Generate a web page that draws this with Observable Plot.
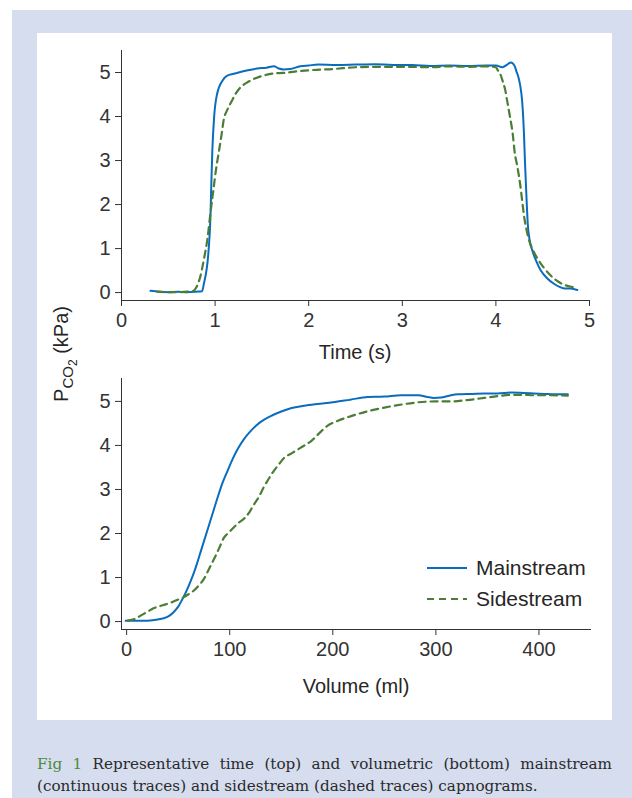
<!DOCTYPE html>
<html>
<head>
<meta charset="utf-8">
<script src="https://cdn.jsdelivr.net/npm/d3@7"></script>
<script src="https://cdn.jsdelivr.net/npm/@observablehq/plot@0.6"></script>
<style>
  html, body { margin: 0; padding: 0; background: #ffffff; }
  #page { position: relative; width: 632px; height: 798px; overflow: hidden; font-family: "Liberation Sans", Arial, sans-serif; color: #262626; }
  #frame { position: absolute; left: 12px; top: 10px; width: 620px; height: 788px; background: #d5ddef; }
  #panel { position: absolute; left: 37px; top: 33px; width: 575px; height: 687px; background: #ffffff; }
  .plot { position: absolute; left: 0; }
  .axlabel { position: absolute; font-size: 20px; white-space: nowrap; transform: translate(-50%, -50%); color: #262626; }
  #ylabel { position: absolute; left: 65px; top: 354px; font-size: 20px; white-space: nowrap; transform: translate(-50%, -50%) rotate(-90deg); color: #262626; }
  #ylabel sub { font-size: 15px; vertical-align: -5px; }
  #ylabel sub sub { font-size: 12px; vertical-align: -4px; }
  #legend { position: absolute; left: 427px; top: 552px; font-size: 21px; color: #262626; }
  .lrow { display: flex; align-items: center; height: 31px; }
  .lrow svg { margin-right: 9px; }
  #caption { position: absolute; left: 37px; top: 753px; width: 575px; font-family: "DejaVu Serif", serif; font-size: 15.2px; line-height: 22px; color: #2a2a2a; }
  #caption .l1 { text-align: justify; text-align-last: justify; white-space: nowrap; }
  #caption .l1 { white-space: normal; }
  #caption .fig { color: #4e8a3a; }
</style>
</head>
<body>
<div id="page">
  <div id="frame"></div>
  <div id="panel"></div>
  <div id="top" class="plot" style="top:0px"></div>
  <div id="bottom" class="plot" style="top:360px"></div>
  <div class="axlabel" style="left:355px; top:352px">Time (s)</div>
  <div class="axlabel" style="left:356px; top:686px">Volume (ml)</div>
  <div id="ylabel">P<sub>CO<sub>2</sub></sub> (kPa)</div>
  <div id="legend"></div>
  <div id="caption">
    <div class="l1"><span class="fig">Fig 1</span> <span>Representative time (top) and volumetric (bottom) mainstream</span></div>
    <div class="l2"><span>(continuous traces) and sidestream (dashed traces) capnograms.</span></div>
  </div>
</div>
<script>
// ---- Data ----
const seriesNames = ["Mainstream", "Sidestream"];
const seriesColors = ["#0a6cbd", "#4b7d35"];

const timeTicks = [0, 1, 2, 3, 4, 5];
const volumeTicks = [0, 100, 200, 300, 400];
const pco2Ticks = [0, 1, 2, 3, 4, 5];

// Time capnogram, mainstream: [time s, PCO2 kPa]
const mainTime = [
  [0.31,0.04],[0.40,0.02],[0.50,0.01],[0.60,0.02],[0.70,0.01],[0.80,0.02],[0.86,0.03],
  [0.88,0.2],[0.93,0.95],[0.95,1.7],[0.96,2.5],[0.97,3.2],[0.99,4.0],[1.02,4.5],
  [1.08,4.82],[1.13,4.93],[1.20,4.97],[1.27,5.01],[1.35,5.05],[1.45,5.09],[1.55,5.11],
  [1.63,5.14],[1.68,5.09],[1.73,5.07],[1.80,5.08],[1.91,5.14],[2.00,5.16],[2.10,5.18],
  [2.30,5.17],[2.50,5.18],[2.70,5.19],[2.90,5.17],[3.10,5.17],[3.30,5.15],[3.50,5.16],
  [3.70,5.15],[3.90,5.16],[4.00,5.16],[4.07,5.12],[4.12,5.18],[4.16,5.23],[4.20,5.15],
  [4.22,5.02],[4.24,4.9],[4.26,4.7],[4.28,4.36],[4.30,3.6],[4.31,3.0],[4.32,2.5],
  [4.33,2.0],[4.34,1.57],[4.36,1.2],[4.39,0.95],[4.43,0.72],[4.48,0.5],[4.55,0.32],
  [4.62,0.2],[4.68,0.13],[4.72,0.1],[4.80,0.09],[4.87,0.06]
];
// Time capnogram, sidestream
const sideTime = [
  [0.38,0.02],[0.50,0.01],[0.60,0.01],[0.70,0.02],[0.77,0.04],[0.80,0.12],[0.84,0.35],
  [0.88,0.75],[0.92,1.25],[0.95,1.8],[0.98,2.3],[1.01,2.8],[1.04,3.2],[1.07,3.6],
  [1.09,3.9],[1.13,4.15],[1.18,4.36],[1.22,4.52],[1.27,4.66],[1.34,4.77],[1.41,4.85],
  [1.50,4.92],[1.63,4.98],[1.73,4.99],[1.85,5.02],[2.00,5.05],[2.27,5.08],[2.50,5.12],
  [2.80,5.13],[3.00,5.13],[3.30,5.12],[3.50,5.14],[3.70,5.13],[3.90,5.14],[4.00,5.12],
  [4.02,5.05],[4.05,4.95],[4.07,4.82],[4.10,4.6],[4.12,4.36],[4.15,4.0],[4.18,3.6],
  [4.20,3.2],[4.23,2.85],[4.26,2.45],[4.28,2.1],[4.30,1.75],[4.33,1.4],[4.36,1.15],
  [4.40,0.95],[4.45,0.75],[4.51,0.57],[4.58,0.4],[4.65,0.27],[4.74,0.17],[4.83,0.12],[4.87,0.1]
];
// Volumetric capnogram, mainstream: [volume ml, PCO2 kPa]
const mainVol = [
  [-1,0.02],[10,0.02],[20,0.02],[28,0.04],[35,0.07],[40,0.11],[45,0.2],[50,0.34],[55,0.55],
  [60,0.8],[64,1.03],[68,1.3],[72,1.6],[76,1.9],[80,2.2],[84,2.5],[88,2.8],[93,3.15],
  [98,3.43],[103,3.7],[108,3.93],[114,4.15],[120,4.32],[126,4.46],[133,4.58],[141,4.68],
  [150,4.77],[160,4.85],[172,4.9],[185,4.94],[200,4.98],[217,5.04],[234,5.1],[250,5.11],[266,5.14],
  [283,5.14],[292,5.1],[298,5.08],[305,5.09],[313,5.13],[321,5.16],[335,5.17],[347,5.18],
  [360,5.18],[373,5.2],[385,5.19],[395,5.18],[405,5.17],[415,5.16],[428,5.16]
];
// Volumetric capnogram, sidestream
const sideVol = [
  [1,0.02],[8,0.06],[14,0.14],[20,0.22],[26,0.3],[35,0.37],[43,0.43],[50,0.5],[55,0.55],
  [60,0.62],[65,0.7],[70,0.82],[75,0.97],[80,1.2],[85,1.43],[90,1.68],[94,1.89],[99,2.02],
  [104,2.14],[109,2.25],[114,2.34],[119,2.48],[123,2.64],[128,2.82],[133,3.05],[138,3.25],
  [143,3.43],[148,3.58],[152,3.7],[160,3.82],[169,3.95],[179,4.1],[187,4.28],[195,4.45],
  [205,4.56],[217,4.66],[233,4.77],[250,4.86],[267,4.93],[283,4.98],[300,5.0],[315,5.0],
  [330,5.03],[347,5.08],[360,5.12],[373,5.15],[385,5.15],[395,5.14],[410,5.14],[428,5.13]
];

// ---- Build tidy tables ----
const tidy = (arr, name) => arr.map(([x, y]) => ({x, y, series: name}));
const timeData = [...tidy(mainTime, seriesNames[0]), ...tidy(sideTime, seriesNames[1])];
const volData = [...tidy(mainVol, seriesNames[0]), ...tidy(sideVol, seriesNames[1])];

const dash = "7,5";
const common = {
  width: 632,
  height: 360,
  marginLeft: 121,
  style: {background: "transparent", fontSize: "20px", fontFamily: "'Liberation Sans', Arial, sans-serif", color: "#333333", overflow: "visible"}
};

function lines(data) {
  return [
    Plot.line(data.filter(d => d.series === seriesNames[0]), {x: "x", y: "y", stroke: seriesColors[0], strokeWidth: 2, curve: "monotone-x"}),
    Plot.line(data.filter(d => d.series === seriesNames[1]), {x: "x", y: "y", stroke: seriesColors[1], strokeWidth: 2.2, strokeDasharray: dash, curve: "monotone-x"})
  ];
}

const topPlot = Plot.plot({
  ...common,
  marginRight: 43,
  marginTop: 50,
  marginBottom: 60,
  x: {domain: [0, 5], ticks: timeTicks, tickFormat: d3.format("d"), tickSize: 6, tickPadding: 6, label: null, line: true},
  y: {domain: [-0.18, 5.5], ticks: pco2Ticks, tickFormat: d3.format("d"), tickSize: 6, tickPadding: 5, label: null, line: true},
  marks: lines(timeData)
});
document.getElementById("top").appendChild(topPlot);

const bottomPlot = Plot.plot({
  ...common,
  marginRight: 42,
  marginTop: 18,
  marginBottom: 91,
  x: {domain: [-5, 450], ticks: volumeTicks, tickFormat: d3.format("d"), tickSize: 6, tickPadding: 6, label: null, line: true},
  y: {domain: [-0.18, 5.52], ticks: pco2Ticks, tickFormat: d3.format("d"), tickSize: 6, tickPadding: 5, label: null, line: true},
  marks: lines(volData)
});
document.getElementById("bottom").appendChild(bottomPlot);

// ---- Legend ----
const legend = document.getElementById("legend");
seriesNames.forEach((name, i) => {
  const row = document.createElement("div");
  row.className = "lrow";
  row.innerHTML = `<svg width="40" height="6"><line x1="0" x2="40" y1="3" y2="3" stroke="${seriesColors[i]}" stroke-width="2" ${i === 1 ? `stroke-dasharray="${dash}"` : ""}></line></svg><span>${name}</span>`;
  legend.appendChild(row);
});
</script>
</body>
</html>
